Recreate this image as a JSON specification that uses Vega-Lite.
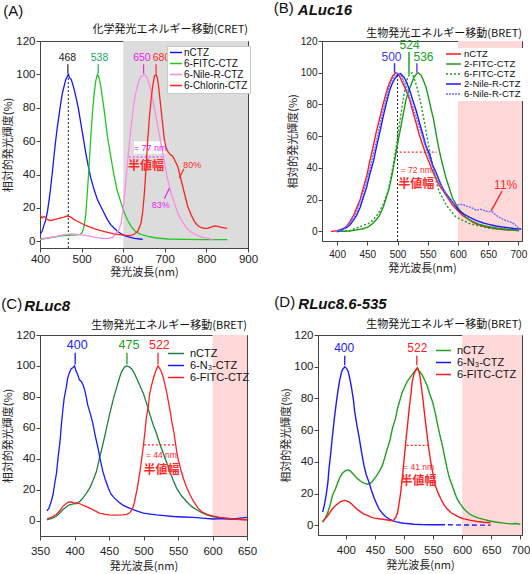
{
"$schema":"https://vega.github.io/schema/vega-lite/v6.json",
"padding":{"left":1,"top":0,"right":0,"bottom":0},
"config":{
 "font":"Liberation Sans",
 "view":{"stroke":"#444"},
 "axis":{"grid":false,"domainColor":"#444","tickColor":"#444","labelColor":"#222","labelFontSize":11.5,"labelFont":"Liberation Sans","tickSize":4,"labelPadding":1,"titleFont":"Noto Sans CJK JP","titleFontSize":11,"titleFontWeight":"normal","titleColor":"#222","titlePadding":2,"labelFlush":false},
 "legend":{"symbolType":"stroke","symbolStrokeWidth":1.6,"labelFont":"Liberation Sans","labelColor":"#111"}
},
"resolve":{"scale":{"color":"independent","fill":"independent","stroke":"independent","strokeDash":"independent"}},
"spacing":16,
"datasets":{
"A":[
{"s":"nCTZ","nm":400,"v":4},{"s":"nCTZ","nm":405,"v":6},{"s":"nCTZ","nm":410,"v":10},{"s":"nCTZ","nm":414,"v":13},{"s":"nCTZ","nm":418,"v":18},{"s":"nCTZ","nm":422,"v":25},{"s":"nCTZ","nm":426,"v":33},{"s":"nCTZ","nm":430,"v":42},{"s":"nCTZ","nm":434,"v":52},{"s":"nCTZ","nm":438,"v":61},{"s":"nCTZ","nm":442,"v":69},{"s":"nCTZ","nm":446,"v":76},{"s":"nCTZ","nm":450,"v":83},{"s":"nCTZ","nm":454,"v":89},{"s":"nCTZ","nm":458,"v":93},{"s":"nCTZ","nm":462,"v":97},{"s":"nCTZ","nm":466,"v":99},{"s":"nCTZ","nm":468,"v":100},{"s":"nCTZ","nm":471,"v":98},{"s":"nCTZ","nm":475,"v":97},{"s":"nCTZ","nm":480,"v":93},{"s":"nCTZ","nm":486,"v":87},{"s":"nCTZ","nm":492,"v":80},{"s":"nCTZ","nm":498,"v":71},{"s":"nCTZ","nm":504,"v":62},{"s":"nCTZ","nm":510,"v":53},{"s":"nCTZ","nm":516,"v":45},{"s":"nCTZ","nm":522,"v":38},{"s":"nCTZ","nm":530,"v":31},{"s":"nCTZ","nm":538,"v":25},{"s":"nCTZ","nm":546,"v":21},{"s":"nCTZ","nm":554,"v":17},{"s":"nCTZ","nm":562,"v":13},{"s":"nCTZ","nm":570,"v":10},{"s":"nCTZ","nm":578,"v":8},{"s":"nCTZ","nm":586,"v":6},{"s":"nCTZ","nm":595,"v":4.5},{"s":"nCTZ","nm":603,"v":3.4},{"s":"nCTZ","nm":615,"v":2.5},{"s":"nCTZ","nm":627,"v":1.8},{"s":"nCTZ","nm":640,"v":1.4},{"s":"nCTZ","nm":647,"v":1.2},
{"s":"6-FITC-CTZ","nm":400,"v":1.4},{"s":"6-FITC-CTZ","nm":420,"v":2},{"s":"6-FITC-CTZ","nm":440,"v":2.8},{"s":"6-FITC-CTZ","nm":460,"v":3.5},{"s":"6-FITC-CTZ","nm":480,"v":3.8},{"s":"6-FITC-CTZ","nm":496,"v":4},{"s":"6-FITC-CTZ","nm":502,"v":5.5},{"s":"6-FITC-CTZ","nm":506,"v":9},{"s":"6-FITC-CTZ","nm":510,"v":16},{"s":"6-FITC-CTZ","nm":514,"v":30},{"s":"6-FITC-CTZ","nm":518,"v":45},{"s":"6-FITC-CTZ","nm":522,"v":62},{"s":"6-FITC-CTZ","nm":526,"v":77},{"s":"6-FITC-CTZ","nm":530,"v":88},{"s":"6-FITC-CTZ","nm":534,"v":96},{"s":"6-FITC-CTZ","nm":538,"v":100},{"s":"6-FITC-CTZ","nm":542,"v":98},{"s":"6-FITC-CTZ","nm":546,"v":93},{"s":"6-FITC-CTZ","nm":550,"v":86},{"s":"6-FITC-CTZ","nm":554,"v":79},{"s":"6-FITC-CTZ","nm":558,"v":71},{"s":"6-FITC-CTZ","nm":562,"v":63},{"s":"6-FITC-CTZ","nm":568,"v":54},{"s":"6-FITC-CTZ","nm":574,"v":45},{"s":"6-FITC-CTZ","nm":580,"v":37},{"s":"6-FITC-CTZ","nm":586,"v":30},{"s":"6-FITC-CTZ","nm":595,"v":23},{"s":"6-FITC-CTZ","nm":603,"v":17},{"s":"6-FITC-CTZ","nm":611,"v":12.5},{"s":"6-FITC-CTZ","nm":619,"v":9},{"s":"6-FITC-CTZ","nm":627,"v":6.5},{"s":"6-FITC-CTZ","nm":635,"v":5},{"s":"6-FITC-CTZ","nm":647,"v":3.8},{"s":"6-FITC-CTZ","nm":659,"v":3},{"s":"6-FITC-CTZ","nm":680,"v":2},{"s":"6-FITC-CTZ","nm":707,"v":1.4},{"s":"6-FITC-CTZ","nm":750,"v":1.2},{"s":"6-FITC-CTZ","nm":800,"v":1},{"s":"6-FITC-CTZ","nm":850,"v":1},
{"s":"6-Nile-R-CTZ","nm":400,"v":1},{"s":"6-Nile-R-CTZ","nm":420,"v":2},{"s":"6-Nile-R-CTZ","nm":440,"v":3},{"s":"6-Nile-R-CTZ","nm":460,"v":4},{"s":"6-Nile-R-CTZ","nm":475,"v":4.4},{"s":"6-Nile-R-CTZ","nm":490,"v":4.2},{"s":"6-Nile-R-CTZ","nm":510,"v":3.5},{"s":"6-Nile-R-CTZ","nm":530,"v":2.5},{"s":"6-Nile-R-CTZ","nm":550,"v":1.8},{"s":"6-Nile-R-CTZ","nm":565,"v":1.6},{"s":"6-Nile-R-CTZ","nm":575,"v":2.5},{"s":"6-Nile-R-CTZ","nm":582,"v":4.4},{"s":"6-Nile-R-CTZ","nm":590,"v":7},{"s":"6-Nile-R-CTZ","nm":595,"v":11},{"s":"6-Nile-R-CTZ","nm":599,"v":18},{"s":"6-Nile-R-CTZ","nm":603,"v":27},{"s":"6-Nile-R-CTZ","nm":607,"v":38},{"s":"6-Nile-R-CTZ","nm":611,"v":49},{"s":"6-Nile-R-CTZ","nm":615,"v":59},{"s":"6-Nile-R-CTZ","nm":619,"v":69},{"s":"6-Nile-R-CTZ","nm":623,"v":77},{"s":"6-Nile-R-CTZ","nm":627,"v":85},{"s":"6-Nile-R-CTZ","nm":633,"v":92},{"s":"6-Nile-R-CTZ","nm":639,"v":97},{"s":"6-Nile-R-CTZ","nm":645,"v":99},{"s":"6-Nile-R-CTZ","nm":650,"v":100},{"s":"6-Nile-R-CTZ","nm":655,"v":99},{"s":"6-Nile-R-CTZ","nm":659,"v":97},{"s":"6-Nile-R-CTZ","nm":665,"v":92},{"s":"6-Nile-R-CTZ","nm":671,"v":85},{"s":"6-Nile-R-CTZ","nm":677,"v":77},{"s":"6-Nile-R-CTZ","nm":683,"v":69},{"s":"6-Nile-R-CTZ","nm":689,"v":61},{"s":"6-Nile-R-CTZ","nm":695,"v":53},{"s":"6-Nile-R-CTZ","nm":701,"v":45},{"s":"6-Nile-R-CTZ","nm":707,"v":37},{"s":"6-Nile-R-CTZ","nm":715,"v":29},{"s":"6-Nile-R-CTZ","nm":723,"v":23},{"s":"6-Nile-R-CTZ","nm":731,"v":17},{"s":"6-Nile-R-CTZ","nm":739,"v":13},{"s":"6-Nile-R-CTZ","nm":747,"v":10},{"s":"6-Nile-R-CTZ","nm":755,"v":7},{"s":"6-Nile-R-CTZ","nm":767,"v":5},{"s":"6-Nile-R-CTZ","nm":779,"v":3.4},{"s":"6-Nile-R-CTZ","nm":791,"v":2.4},{"s":"6-Nile-R-CTZ","nm":803,"v":1.8},{"s":"6-Nile-R-CTZ","nm":815,"v":1.2},
{"s":"6-Chlorin-CTZ","nm":400,"v":16},{"s":"6-Chlorin-CTZ","nm":405,"v":14},{"s":"6-Chlorin-CTZ","nm":410,"v":15},{"s":"6-Chlorin-CTZ","nm":418,"v":13},{"s":"6-Chlorin-CTZ","nm":426,"v":12.5},{"s":"6-Chlorin-CTZ","nm":434,"v":13},{"s":"6-Chlorin-CTZ","nm":442,"v":13.5},{"s":"6-Chlorin-CTZ","nm":450,"v":14},{"s":"6-Chlorin-CTZ","nm":458,"v":14.5},{"s":"6-Chlorin-CTZ","nm":466,"v":15.3},{"s":"6-Chlorin-CTZ","nm":474,"v":14.5},{"s":"6-Chlorin-CTZ","nm":482,"v":13},{"s":"6-Chlorin-CTZ","nm":490,"v":12},{"s":"6-Chlorin-CTZ","nm":498,"v":11},{"s":"6-Chlorin-CTZ","nm":510,"v":9.5},{"s":"6-Chlorin-CTZ","nm":522,"v":8.3},{"s":"6-Chlorin-CTZ","nm":534,"v":7.3},{"s":"6-Chlorin-CTZ","nm":546,"v":6.4},{"s":"6-Chlorin-CTZ","nm":562,"v":5.3},{"s":"6-Chlorin-CTZ","nm":578,"v":4.4},{"s":"6-Chlorin-CTZ","nm":595,"v":3.8},{"s":"6-Chlorin-CTZ","nm":611,"v":3.4},{"s":"6-Chlorin-CTZ","nm":619,"v":3.5},{"s":"6-Chlorin-CTZ","nm":627,"v":4.4},{"s":"6-Chlorin-CTZ","nm":635,"v":6},{"s":"6-Chlorin-CTZ","nm":643,"v":11},{"s":"6-Chlorin-CTZ","nm":647,"v":18},{"s":"6-Chlorin-CTZ","nm":651,"v":29},{"s":"6-Chlorin-CTZ","nm":655,"v":44},{"s":"6-Chlorin-CTZ","nm":659,"v":61},{"s":"6-Chlorin-CTZ","nm":663,"v":74},{"s":"6-Chlorin-CTZ","nm":667,"v":85},{"s":"6-Chlorin-CTZ","nm":671,"v":93},{"s":"6-Chlorin-CTZ","nm":675,"v":99},{"s":"6-Chlorin-CTZ","nm":679,"v":100},{"s":"6-Chlorin-CTZ","nm":682,"v":98},{"s":"6-Chlorin-CTZ","nm":685,"v":93},{"s":"6-Chlorin-CTZ","nm":688,"v":86},{"s":"6-Chlorin-CTZ","nm":691,"v":79},{"s":"6-Chlorin-CTZ","nm":695,"v":70},{"s":"6-Chlorin-CTZ","nm":699,"v":61},{"s":"6-Chlorin-CTZ","nm":703,"v":56},{"s":"6-Chlorin-CTZ","nm":707,"v":54},{"s":"6-Chlorin-CTZ","nm":713,"v":52},{"s":"6-Chlorin-CTZ","nm":719,"v":51},{"s":"6-Chlorin-CTZ","nm":725,"v":48},{"s":"6-Chlorin-CTZ","nm":731,"v":45},{"s":"6-Chlorin-CTZ","nm":737,"v":39},{"s":"6-Chlorin-CTZ","nm":743,"v":33},{"s":"6-Chlorin-CTZ","nm":749,"v":27},{"s":"6-Chlorin-CTZ","nm":755,"v":21},{"s":"6-Chlorin-CTZ","nm":763,"v":16},{"s":"6-Chlorin-CTZ","nm":771,"v":12},{"s":"6-Chlorin-CTZ","nm":779,"v":9.5},{"s":"6-Chlorin-CTZ","nm":787,"v":8.3},{"s":"6-Chlorin-CTZ","nm":795,"v":7.8},{"s":"6-Chlorin-CTZ","nm":803,"v":7.8},{"s":"6-Chlorin-CTZ","nm":811,"v":8.5},{"s":"6-Chlorin-CTZ","nm":820,"v":9.3},{"s":"6-Chlorin-CTZ","nm":828,"v":9},{"s":"6-Chlorin-CTZ","nm":836,"v":8.3},{"s":"6-Chlorin-CTZ","nm":843,"v":8},{"s":"6-Chlorin-CTZ","nm":850,"v":7.8}
],
"B":[
{"s":"nCTZ","nm":390,"v":0},{"s":"nCTZ","nm":400,"v":0.5},{"s":"nCTZ","nm":410,"v":1.7},{"s":"nCTZ","nm":416,"v":3.5},{"s":"nCTZ","nm":421,"v":6},{"s":"nCTZ","nm":427,"v":10},{"s":"nCTZ","nm":432,"v":14.5},{"s":"nCTZ","nm":438,"v":20},{"s":"nCTZ","nm":443,"v":27},{"s":"nCTZ","nm":449,"v":35},{"s":"nCTZ","nm":454,"v":44},{"s":"nCTZ","nm":460,"v":54},{"s":"nCTZ","nm":465,"v":63},{"s":"nCTZ","nm":471,"v":72},{"s":"nCTZ","nm":476,"v":80},{"s":"nCTZ","nm":481,"v":87},{"s":"nCTZ","nm":486,"v":93},{"s":"nCTZ","nm":492,"v":98},{"s":"nCTZ","nm":497,"v":100},{"s":"nCTZ","nm":503,"v":98},{"s":"nCTZ","nm":508,"v":94},{"s":"nCTZ","nm":514,"v":89},{"s":"nCTZ","nm":520,"v":83},{"s":"nCTZ","nm":525,"v":76},{"s":"nCTZ","nm":531,"v":68},{"s":"nCTZ","nm":536,"v":61},{"s":"nCTZ","nm":542,"v":54},{"s":"nCTZ","nm":547,"v":48.5},{"s":"nCTZ","nm":553,"v":43},{"s":"nCTZ","nm":558,"v":38},{"s":"nCTZ","nm":564,"v":33},{"s":"nCTZ","nm":569,"v":29},{"s":"nCTZ","nm":575,"v":26},{"s":"nCTZ","nm":580,"v":23},{"s":"nCTZ","nm":586,"v":19.5},{"s":"nCTZ","nm":591,"v":16.6},{"s":"nCTZ","nm":600,"v":13},{"s":"nCTZ","nm":608,"v":10},{"s":"nCTZ","nm":616,"v":8},{"s":"nCTZ","nm":624,"v":6},{"s":"nCTZ","nm":632,"v":4.5},{"s":"nCTZ","nm":641,"v":3.4},{"s":"nCTZ","nm":652,"v":2.4},{"s":"nCTZ","nm":663,"v":1.7},{"s":"nCTZ","nm":680,"v":1},{"s":"nCTZ","nm":701,"v":0.6},
{"s":"2-FITC-CTZ","nm":400,"v":0},{"s":"2-FITC-CTZ","nm":421,"v":0.3},{"s":"2-FITC-CTZ","nm":443,"v":1.7},{"s":"2-FITC-CTZ","nm":452,"v":3},{"s":"2-FITC-CTZ","nm":459,"v":5},{"s":"2-FITC-CTZ","nm":465,"v":7.5},{"s":"2-FITC-CTZ","nm":470,"v":10},{"s":"2-FITC-CTZ","nm":476,"v":15},{"s":"2-FITC-CTZ","nm":481,"v":21},{"s":"2-FITC-CTZ","nm":486,"v":27},{"s":"2-FITC-CTZ","nm":490,"v":34},{"s":"2-FITC-CTZ","nm":494,"v":42},{"s":"2-FITC-CTZ","nm":498,"v":51},{"s":"2-FITC-CTZ","nm":502,"v":59},{"s":"2-FITC-CTZ","nm":506,"v":67},{"s":"2-FITC-CTZ","nm":510,"v":75},{"s":"2-FITC-CTZ","nm":514,"v":83},{"s":"2-FITC-CTZ","nm":518,"v":88},{"s":"2-FITC-CTZ","nm":523,"v":93},{"s":"2-FITC-CTZ","nm":527,"v":97},{"s":"2-FITC-CTZ","nm":531,"v":99},{"s":"2-FITC-CTZ","nm":534,"v":100},{"s":"2-FITC-CTZ","nm":539,"v":98.5},{"s":"2-FITC-CTZ","nm":543,"v":95},{"s":"2-FITC-CTZ","nm":547,"v":91},{"s":"2-FITC-CTZ","nm":551,"v":85},{"s":"2-FITC-CTZ","nm":555,"v":78},{"s":"2-FITC-CTZ","nm":560,"v":70},{"s":"2-FITC-CTZ","nm":564,"v":61},{"s":"2-FITC-CTZ","nm":568,"v":53},{"s":"2-FITC-CTZ","nm":572,"v":46},{"s":"2-FITC-CTZ","nm":576,"v":40},{"s":"2-FITC-CTZ","nm":580,"v":34},{"s":"2-FITC-CTZ","nm":586,"v":27},{"s":"2-FITC-CTZ","nm":591,"v":21},{"s":"2-FITC-CTZ","nm":600,"v":15},{"s":"2-FITC-CTZ","nm":608,"v":11},{"s":"2-FITC-CTZ","nm":616,"v":8},{"s":"2-FITC-CTZ","nm":624,"v":6.4},{"s":"2-FITC-CTZ","nm":635,"v":4.5},{"s":"2-FITC-CTZ","nm":646,"v":3.4},{"s":"2-FITC-CTZ","nm":660,"v":2.4},{"s":"2-FITC-CTZ","nm":674,"v":1.7},{"s":"2-FITC-CTZ","nm":701,"v":0.6},
{"s":"6-FITC-CTZ","nm":400,"v":0},{"s":"6-FITC-CTZ","nm":421,"v":0.5},{"s":"6-FITC-CTZ","nm":443,"v":3.8},{"s":"6-FITC-CTZ","nm":452,"v":5},{"s":"6-FITC-CTZ","nm":459,"v":7},{"s":"6-FITC-CTZ","nm":468,"v":11},{"s":"6-FITC-CTZ","nm":476,"v":17},{"s":"6-FITC-CTZ","nm":480,"v":21},{"s":"6-FITC-CTZ","nm":484,"v":25},{"s":"6-FITC-CTZ","nm":488,"v":32},{"s":"6-FITC-CTZ","nm":492,"v":40},{"s":"6-FITC-CTZ","nm":496,"v":49},{"s":"6-FITC-CTZ","nm":500,"v":59},{"s":"6-FITC-CTZ","nm":504,"v":70},{"s":"6-FITC-CTZ","nm":508,"v":80},{"s":"6-FITC-CTZ","nm":511,"v":87},{"s":"6-FITC-CTZ","nm":514,"v":93},{"s":"6-FITC-CTZ","nm":517,"v":97},{"s":"6-FITC-CTZ","nm":520,"v":99},{"s":"6-FITC-CTZ","nm":524,"v":100},{"s":"6-FITC-CTZ","nm":528,"v":96},{"s":"6-FITC-CTZ","nm":532,"v":91},{"s":"6-FITC-CTZ","nm":536,"v":85},{"s":"6-FITC-CTZ","nm":540,"v":78},{"s":"6-FITC-CTZ","nm":545,"v":68},{"s":"6-FITC-CTZ","nm":549,"v":59},{"s":"6-FITC-CTZ","nm":553,"v":51},{"s":"6-FITC-CTZ","nm":557,"v":43},{"s":"6-FITC-CTZ","nm":561,"v":36},{"s":"6-FITC-CTZ","nm":565,"v":30},{"s":"6-FITC-CTZ","nm":569,"v":25},{"s":"6-FITC-CTZ","nm":575,"v":21},{"s":"6-FITC-CTZ","nm":580,"v":17},{"s":"6-FITC-CTZ","nm":588,"v":13},{"s":"6-FITC-CTZ","nm":597,"v":9},{"s":"6-FITC-CTZ","nm":608,"v":7},{"s":"6-FITC-CTZ","nm":619,"v":5},{"s":"6-FITC-CTZ","nm":635,"v":3.5},{"s":"6-FITC-CTZ","nm":652,"v":2},{"s":"6-FITC-CTZ","nm":680,"v":1},{"s":"6-FITC-CTZ","nm":701,"v":0.5},
{"s":"2-Nile-R-CTZ","nm":400,"v":0},{"s":"2-Nile-R-CTZ","nm":410,"v":1.5},{"s":"2-Nile-R-CTZ","nm":416,"v":2.5},{"s":"2-Nile-R-CTZ","nm":421,"v":4},{"s":"2-Nile-R-CTZ","nm":427,"v":7},{"s":"2-Nile-R-CTZ","nm":432,"v":10},{"s":"2-Nile-R-CTZ","nm":438,"v":15},{"s":"2-Nile-R-CTZ","nm":443,"v":21},{"s":"2-Nile-R-CTZ","nm":449,"v":28},{"s":"2-Nile-R-CTZ","nm":454,"v":36},{"s":"2-Nile-R-CTZ","nm":460,"v":44},{"s":"2-Nile-R-CTZ","nm":465,"v":53},{"s":"2-Nile-R-CTZ","nm":471,"v":63},{"s":"2-Nile-R-CTZ","nm":476,"v":72},{"s":"2-Nile-R-CTZ","nm":481,"v":80},{"s":"2-Nile-R-CTZ","nm":487,"v":89},{"s":"2-Nile-R-CTZ","nm":491,"v":93},{"s":"2-Nile-R-CTZ","nm":495,"v":96},{"s":"2-Nile-R-CTZ","nm":500,"v":98.5},{"s":"2-Nile-R-CTZ","nm":505,"v":99.5},{"s":"2-Nile-R-CTZ","nm":511,"v":97},{"s":"2-Nile-R-CTZ","nm":515,"v":94},{"s":"2-Nile-R-CTZ","nm":520,"v":89},{"s":"2-Nile-R-CTZ","nm":525,"v":83},{"s":"2-Nile-R-CTZ","nm":531,"v":76},{"s":"2-Nile-R-CTZ","nm":536,"v":69},{"s":"2-Nile-R-CTZ","nm":542,"v":61},{"s":"2-Nile-R-CTZ","nm":547,"v":54},{"s":"2-Nile-R-CTZ","nm":553,"v":48.5},{"s":"2-Nile-R-CTZ","nm":558,"v":42},{"s":"2-Nile-R-CTZ","nm":564,"v":37},{"s":"2-Nile-R-CTZ","nm":569,"v":32},{"s":"2-Nile-R-CTZ","nm":575,"v":27},{"s":"2-Nile-R-CTZ","nm":580,"v":24},{"s":"2-Nile-R-CTZ","nm":586,"v":21},{"s":"2-Nile-R-CTZ","nm":594,"v":17},{"s":"2-Nile-R-CTZ","nm":602,"v":13},{"s":"2-Nile-R-CTZ","nm":610,"v":11},{"s":"2-Nile-R-CTZ","nm":619,"v":9},{"s":"2-Nile-R-CTZ","nm":630,"v":7},{"s":"2-Nile-R-CTZ","nm":641,"v":5.5},{"s":"2-Nile-R-CTZ","nm":652,"v":4.4},{"s":"2-Nile-R-CTZ","nm":663,"v":3.4},{"s":"2-Nile-R-CTZ","nm":680,"v":2.5},{"s":"2-Nile-R-CTZ","nm":696,"v":1.7},{"s":"2-Nile-R-CTZ","nm":705,"v":1.5},
{"s":"6-Nile-R-CTZ","nm":398,"v":0},{"s":"6-Nile-R-CTZ","nm":410,"v":1.2},{"s":"6-Nile-R-CTZ","nm":421,"v":5},{"s":"6-Nile-R-CTZ","nm":432,"v":12},{"s":"6-Nile-R-CTZ","nm":443,"v":24},{"s":"6-Nile-R-CTZ","nm":454,"v":39},{"s":"6-Nile-R-CTZ","nm":465,"v":57},{"s":"6-Nile-R-CTZ","nm":476,"v":76},{"s":"6-Nile-R-CTZ","nm":487,"v":92},{"s":"6-Nile-R-CTZ","nm":494,"v":98},{"s":"6-Nile-R-CTZ","nm":500,"v":100},{"s":"6-Nile-R-CTZ","nm":506,"v":98},{"s":"6-Nile-R-CTZ","nm":514,"v":91},{"s":"6-Nile-R-CTZ","nm":522,"v":82},{"s":"6-Nile-R-CTZ","nm":531,"v":72},{"s":"6-Nile-R-CTZ","nm":540,"v":61},{"s":"6-Nile-R-CTZ","nm":549,"v":50},{"s":"6-Nile-R-CTZ","nm":558,"v":41},{"s":"6-Nile-R-CTZ","nm":566,"v":33},{"s":"6-Nile-R-CTZ","nm":575,"v":27},{"s":"6-Nile-R-CTZ","nm":583,"v":22},{"s":"6-Nile-R-CTZ","nm":591,"v":18},{"s":"6-Nile-R-CTZ","nm":597,"v":16.6},{"s":"6-Nile-R-CTZ","nm":603,"v":17},{"s":"6-Nile-R-CTZ","nm":608,"v":17},{"s":"6-Nile-R-CTZ","nm":614,"v":16},{"s":"6-Nile-R-CTZ","nm":619,"v":15.5},{"s":"6-Nile-R-CTZ","nm":625,"v":14.5},{"s":"6-Nile-R-CTZ","nm":630,"v":13.4},{"s":"6-Nile-R-CTZ","nm":635,"v":13.8},{"s":"6-Nile-R-CTZ","nm":638,"v":14},{"s":"6-Nile-R-CTZ","nm":642,"v":13.5},{"s":"6-Nile-R-CTZ","nm":646,"v":12.8},{"s":"6-Nile-R-CTZ","nm":651,"v":12.5},{"s":"6-Nile-R-CTZ","nm":657,"v":12.3},{"s":"6-Nile-R-CTZ","nm":662,"v":10.5},{"s":"6-Nile-R-CTZ","nm":668,"v":9},{"s":"6-Nile-R-CTZ","nm":673,"v":8},{"s":"6-Nile-R-CTZ","nm":679,"v":7},{"s":"6-Nile-R-CTZ","nm":684,"v":6.2},{"s":"6-Nile-R-CTZ","nm":690,"v":5.5},{"s":"6-Nile-R-CTZ","nm":695,"v":4},{"s":"6-Nile-R-CTZ","nm":701,"v":1.7}
],
"C":[
{"s":"nCTZ","nm":360,"v":0.4},{"s":"nCTZ","nm":366,"v":1.2},{"s":"nCTZ","nm":373,"v":2.6},{"s":"nCTZ","nm":378,"v":4.5},{"s":"nCTZ","nm":383,"v":7},{"s":"nCTZ","nm":388,"v":8.7},{"s":"nCTZ","nm":392,"v":10},{"s":"nCTZ","nm":398,"v":10.8},{"s":"nCTZ","nm":403,"v":11},{"s":"nCTZ","nm":408,"v":12.5},{"s":"nCTZ","nm":412,"v":14.5},{"s":"nCTZ","nm":417,"v":17.5},{"s":"nCTZ","nm":422,"v":21},{"s":"nCTZ","nm":427,"v":26},{"s":"nCTZ","nm":432,"v":32},{"s":"nCTZ","nm":436,"v":40},{"s":"nCTZ","nm":441,"v":49},{"s":"nCTZ","nm":446,"v":59},{"s":"nCTZ","nm":451,"v":69},{"s":"nCTZ","nm":456,"v":78},{"s":"nCTZ","nm":461,"v":86},{"s":"nCTZ","nm":465,"v":92},{"s":"nCTZ","nm":468,"v":96},{"s":"nCTZ","nm":472,"v":99},{"s":"nCTZ","nm":475,"v":100},{"s":"nCTZ","nm":479,"v":99.5},{"s":"nCTZ","nm":483,"v":98},{"s":"nCTZ","nm":487,"v":95},{"s":"nCTZ","nm":490,"v":92},{"s":"nCTZ","nm":495,"v":87},{"s":"nCTZ","nm":500,"v":82},{"s":"nCTZ","nm":505,"v":75},{"s":"nCTZ","nm":509,"v":69},{"s":"nCTZ","nm":514,"v":62},{"s":"nCTZ","nm":519,"v":56},{"s":"nCTZ","nm":524,"v":49},{"s":"nCTZ","nm":529,"v":43},{"s":"nCTZ","nm":534,"v":37},{"s":"nCTZ","nm":538,"v":32},{"s":"nCTZ","nm":543,"v":26},{"s":"nCTZ","nm":548,"v":21},{"s":"nCTZ","nm":555,"v":16},{"s":"nCTZ","nm":563,"v":12},{"s":"nCTZ","nm":570,"v":9},{"s":"nCTZ","nm":577,"v":7},{"s":"nCTZ","nm":585,"v":5},{"s":"nCTZ","nm":592,"v":3.7},{"s":"nCTZ","nm":600,"v":2.5},{"s":"nCTZ","nm":611,"v":1.5},{"s":"nCTZ","nm":625,"v":1},{"s":"nCTZ","nm":650,"v":0.4},
{"s":"6-N₃-CTZ","nm":360,"v":6.3},{"s":"6-N₃-CTZ","nm":363,"v":8},{"s":"6-N₃-CTZ","nm":366,"v":12},{"s":"6-N₃-CTZ","nm":369,"v":17},{"s":"6-N₃-CTZ","nm":371,"v":23},{"s":"6-N₃-CTZ","nm":374,"v":31},{"s":"6-N₃-CTZ","nm":376,"v":40},{"s":"6-N₃-CTZ","nm":379,"v":51},{"s":"6-N₃-CTZ","nm":381,"v":62},{"s":"6-N₃-CTZ","nm":383,"v":71},{"s":"6-N₃-CTZ","nm":385,"v":79},{"s":"6-N₃-CTZ","nm":388,"v":86},{"s":"6-N₃-CTZ","nm":390,"v":92},{"s":"6-N₃-CTZ","nm":393,"v":96},{"s":"6-N₃-CTZ","nm":395,"v":98},{"s":"6-N₃-CTZ","nm":398,"v":99},{"s":"6-N₃-CTZ","nm":400,"v":100},{"s":"6-N₃-CTZ","nm":402,"v":97},{"s":"6-N₃-CTZ","nm":405,"v":94},{"s":"6-N₃-CTZ","nm":407,"v":91},{"s":"6-N₃-CTZ","nm":410,"v":90},{"s":"6-N₃-CTZ","nm":413,"v":87},{"s":"6-N₃-CTZ","nm":415,"v":84},{"s":"6-N₃-CTZ","nm":417,"v":80},{"s":"6-N₃-CTZ","nm":419,"v":75},{"s":"6-N₃-CTZ","nm":423,"v":69},{"s":"6-N₃-CTZ","nm":427,"v":62},{"s":"6-N₃-CTZ","nm":430,"v":55},{"s":"6-N₃-CTZ","nm":434,"v":47},{"s":"6-N₃-CTZ","nm":437,"v":40},{"s":"6-N₃-CTZ","nm":441,"v":32},{"s":"6-N₃-CTZ","nm":445,"v":26},{"s":"6-N₃-CTZ","nm":449,"v":21},{"s":"6-N₃-CTZ","nm":453,"v":17},{"s":"6-N₃-CTZ","nm":458,"v":14.5},{"s":"6-N₃-CTZ","nm":464,"v":12},{"s":"6-N₃-CTZ","nm":470,"v":10},{"s":"6-N₃-CTZ","nm":477,"v":8.5},{"s":"6-N₃-CTZ","nm":485,"v":7},{"s":"6-N₃-CTZ","nm":492,"v":6},{"s":"6-N₃-CTZ","nm":500,"v":4.8},{"s":"6-N₃-CTZ","nm":510,"v":4.2},{"s":"6-N₃-CTZ","nm":519,"v":3.7},{"s":"6-N₃-CTZ","nm":530,"v":3.2},{"s":"6-N₃-CTZ","nm":543,"v":2.6},{"s":"6-N₃-CTZ","nm":558,"v":2.3},{"s":"6-N₃-CTZ","nm":572,"v":2},{"s":"6-N₃-CTZ","nm":585,"v":1.6},{"s":"6-N₃-CTZ","nm":601,"v":1},{"s":"6-N₃-CTZ","nm":615,"v":1.2},{"s":"6-N₃-CTZ","nm":631,"v":1},{"s":"6-N₃-CTZ","nm":640,"v":1.5},{"s":"6-N₃-CTZ","nm":650,"v":2},
{"s":"6-FITC-CTZ","nm":360,"v":1},{"s":"6-FITC-CTZ","nm":366,"v":2},{"s":"6-FITC-CTZ","nm":373,"v":3.7},{"s":"6-FITC-CTZ","nm":378,"v":6},{"s":"6-FITC-CTZ","nm":383,"v":9},{"s":"6-FITC-CTZ","nm":388,"v":11},{"s":"6-FITC-CTZ","nm":392,"v":12},{"s":"6-FITC-CTZ","nm":396,"v":12},{"s":"6-FITC-CTZ","nm":400,"v":11.2},{"s":"6-FITC-CTZ","nm":404,"v":11.5},{"s":"6-FITC-CTZ","nm":407,"v":11},{"s":"6-FITC-CTZ","nm":412,"v":10},{"s":"6-FITC-CTZ","nm":417,"v":9},{"s":"6-FITC-CTZ","nm":422,"v":8},{"s":"6-FITC-CTZ","nm":427,"v":7},{"s":"6-FITC-CTZ","nm":432,"v":5.8},{"s":"6-FITC-CTZ","nm":436,"v":4.8},{"s":"6-FITC-CTZ","nm":443,"v":4.2},{"s":"6-FITC-CTZ","nm":451,"v":3.7},{"s":"6-FITC-CTZ","nm":460,"v":3.5},{"s":"6-FITC-CTZ","nm":470,"v":3.7},{"s":"6-FITC-CTZ","nm":476,"v":4},{"s":"6-FITC-CTZ","nm":480,"v":5},{"s":"6-FITC-CTZ","nm":484,"v":7.5},{"s":"6-FITC-CTZ","nm":487,"v":12},{"s":"6-FITC-CTZ","nm":491,"v":21},{"s":"6-FITC-CTZ","nm":495,"v":32},{"s":"6-FITC-CTZ","nm":498,"v":42},{"s":"6-FITC-CTZ","nm":500,"v":49},{"s":"6-FITC-CTZ","nm":502,"v":57},{"s":"6-FITC-CTZ","nm":504,"v":66},{"s":"6-FITC-CTZ","nm":507,"v":74},{"s":"6-FITC-CTZ","nm":509,"v":82},{"s":"6-FITC-CTZ","nm":512,"v":88},{"s":"6-FITC-CTZ","nm":515,"v":93},{"s":"6-FITC-CTZ","nm":518,"v":97},{"s":"6-FITC-CTZ","nm":521,"v":100},{"s":"6-FITC-CTZ","nm":524,"v":98},{"s":"6-FITC-CTZ","nm":526,"v":96},{"s":"6-FITC-CTZ","nm":529,"v":92},{"s":"6-FITC-CTZ","nm":531,"v":88},{"s":"6-FITC-CTZ","nm":534,"v":82},{"s":"6-FITC-CTZ","nm":536,"v":77},{"s":"6-FITC-CTZ","nm":539,"v":70},{"s":"6-FITC-CTZ","nm":541,"v":64},{"s":"6-FITC-CTZ","nm":544,"v":57},{"s":"6-FITC-CTZ","nm":546,"v":51},{"s":"6-FITC-CTZ","nm":548,"v":45},{"s":"6-FITC-CTZ","nm":550,"v":40},{"s":"6-FITC-CTZ","nm":554,"v":33},{"s":"6-FITC-CTZ","nm":558,"v":27},{"s":"6-FITC-CTZ","nm":562,"v":22},{"s":"6-FITC-CTZ","nm":567,"v":17},{"s":"6-FITC-CTZ","nm":573,"v":12},{"s":"6-FITC-CTZ","nm":579,"v":8},{"s":"6-FITC-CTZ","nm":585,"v":5.5},{"s":"6-FITC-CTZ","nm":592,"v":4},{"s":"6-FITC-CTZ","nm":600,"v":3},{"s":"6-FITC-CTZ","nm":611,"v":2},{"s":"6-FITC-CTZ","nm":631,"v":1},{"s":"6-FITC-CTZ","nm":650,"v":0.5}
],
"D":[
{"s":"nCTZ","nm":360,"v":2},{"s":"nCTZ","nm":365,"v":5},{"s":"nCTZ","nm":369,"v":8.4},{"s":"nCTZ","nm":373,"v":13},{"s":"nCTZ","nm":377,"v":19},{"s":"nCTZ","nm":382,"v":23},{"s":"nCTZ","nm":386,"v":27},{"s":"nCTZ","nm":390,"v":30.5},{"s":"nCTZ","nm":394,"v":33},{"s":"nCTZ","nm":399,"v":34.5},{"s":"nCTZ","nm":403,"v":35},{"s":"nCTZ","nm":407,"v":34.5},{"s":"nCTZ","nm":411,"v":33},{"s":"nCTZ","nm":416,"v":31},{"s":"nCTZ","nm":420,"v":29.5},{"s":"nCTZ","nm":425,"v":28},{"s":"nCTZ","nm":429,"v":27},{"s":"nCTZ","nm":433,"v":26.5},{"s":"nCTZ","nm":437,"v":26},{"s":"nCTZ","nm":442,"v":26.5},{"s":"nCTZ","nm":446,"v":28},{"s":"nCTZ","nm":450,"v":30},{"s":"nCTZ","nm":454,"v":32},{"s":"nCTZ","nm":459,"v":35},{"s":"nCTZ","nm":463,"v":38},{"s":"nCTZ","nm":467,"v":43},{"s":"nCTZ","nm":471,"v":48},{"s":"nCTZ","nm":476,"v":54},{"s":"nCTZ","nm":480,"v":61},{"s":"nCTZ","nm":485,"v":67},{"s":"nCTZ","nm":489,"v":74},{"s":"nCTZ","nm":493,"v":79},{"s":"nCTZ","nm":497,"v":84},{"s":"nCTZ","nm":502,"v":88},{"s":"nCTZ","nm":506,"v":91},{"s":"nCTZ","nm":510,"v":93},{"s":"nCTZ","nm":514,"v":95},{"s":"nCTZ","nm":518,"v":97},{"s":"nCTZ","nm":523,"v":98.5},{"s":"nCTZ","nm":527,"v":97},{"s":"nCTZ","nm":531,"v":95},{"s":"nCTZ","nm":535,"v":92},{"s":"nCTZ","nm":540,"v":88},{"s":"nCTZ","nm":544,"v":83},{"s":"nCTZ","nm":549,"v":78},{"s":"nCTZ","nm":553,"v":72},{"s":"nCTZ","nm":557,"v":65},{"s":"nCTZ","nm":561,"v":58},{"s":"nCTZ","nm":566,"v":50.5},{"s":"nCTZ","nm":570,"v":43},{"s":"nCTZ","nm":574,"v":36},{"s":"nCTZ","nm":578,"v":30},{"s":"nCTZ","nm":583,"v":25},{"s":"nCTZ","nm":587,"v":21},{"s":"nCTZ","nm":591,"v":17},{"s":"nCTZ","nm":597,"v":13.5},{"s":"nCTZ","nm":603,"v":10.5},{"s":"nCTZ","nm":610,"v":8},{"s":"nCTZ","nm":617,"v":6.3},{"s":"nCTZ","nm":627,"v":4.8},{"s":"nCTZ","nm":637,"v":3.8},{"s":"nCTZ","nm":648,"v":2.8},{"s":"nCTZ","nm":660,"v":2},{"s":"nCTZ","nm":672,"v":1.5},{"s":"nCTZ","nm":683,"v":1},{"s":"nCTZ","nm":692,"v":1.2},{"s":"nCTZ","nm":700,"v":0.8},
{"s":"6-N₃-CTZ","nm":360,"v":8.4},{"s":"6-N₃-CTZ","nm":363,"v":13},{"s":"6-N₃-CTZ","nm":366,"v":19},{"s":"6-N₃-CTZ","nm":369,"v":27},{"s":"6-N₃-CTZ","nm":371,"v":36},{"s":"6-N₃-CTZ","nm":374,"v":46},{"s":"6-N₃-CTZ","nm":377,"v":57},{"s":"6-N₃-CTZ","nm":380,"v":67},{"s":"6-N₃-CTZ","nm":383,"v":76},{"s":"6-N₃-CTZ","nm":386,"v":84},{"s":"6-N₃-CTZ","nm":389,"v":91},{"s":"6-N₃-CTZ","nm":392,"v":96},{"s":"6-N₃-CTZ","nm":394,"v":98},{"s":"6-N₃-CTZ","nm":398,"v":100},{"s":"6-N₃-CTZ","nm":401,"v":99},{"s":"6-N₃-CTZ","nm":404,"v":97},{"s":"6-N₃-CTZ","nm":407,"v":92},{"s":"6-N₃-CTZ","nm":410,"v":86},{"s":"6-N₃-CTZ","nm":413,"v":79},{"s":"6-N₃-CTZ","nm":415,"v":72},{"s":"6-N₃-CTZ","nm":419,"v":63},{"s":"6-N₃-CTZ","nm":423,"v":55},{"s":"6-N₃-CTZ","nm":427,"v":46},{"s":"6-N₃-CTZ","nm":431,"v":38},{"s":"6-N₃-CTZ","nm":435,"v":32},{"s":"6-N₃-CTZ","nm":440,"v":27},{"s":"6-N₃-CTZ","nm":444,"v":22},{"s":"6-N₃-CTZ","nm":449,"v":17},{"s":"6-N₃-CTZ","nm":453,"v":13.5},{"s":"6-N₃-CTZ","nm":457,"v":10.5},{"s":"6-N₃-CTZ","nm":463,"v":7.5},{"s":"6-N₃-CTZ","nm":469,"v":5.3},{"s":"6-N₃-CTZ","nm":475,"v":4},{"s":"6-N₃-CTZ","nm":480,"v":3},{"s":"6-N₃-CTZ","nm":487,"v":2.3},{"s":"6-N₃-CTZ","nm":494,"v":1.7},{"s":"6-N₃-CTZ","nm":505,"v":1.2},{"s":"6-N₃-CTZ","nm":517,"v":0.8},{"s":"6-N₃-CTZ","nm":530,"v":0.6},{"s":"6-N₃-CTZ","nm":546,"v":0.5},{"s":"6-N₃-CTZ","nm":562,"v":0.5},
{"s":"6-FITC-CTZ","nm":360,"v":2.5},{"s":"6-FITC-CTZ","nm":365,"v":4.5},{"s":"6-FITC-CTZ","nm":369,"v":6.3},{"s":"6-FITC-CTZ","nm":373,"v":8.5},{"s":"6-FITC-CTZ","nm":377,"v":10.5},{"s":"6-FITC-CTZ","nm":382,"v":12.5},{"s":"6-FITC-CTZ","nm":386,"v":13.7},{"s":"6-FITC-CTZ","nm":391,"v":15},{"s":"6-FITC-CTZ","nm":397,"v":15.8},{"s":"6-FITC-CTZ","nm":401,"v":15.5},{"s":"6-FITC-CTZ","nm":406,"v":14.7},{"s":"6-FITC-CTZ","nm":410,"v":13.5},{"s":"6-FITC-CTZ","nm":414,"v":12},{"s":"6-FITC-CTZ","nm":420,"v":10},{"s":"6-FITC-CTZ","nm":426,"v":8.4},{"s":"6-FITC-CTZ","nm":431,"v":7.2},{"s":"6-FITC-CTZ","nm":437,"v":6.3},{"s":"6-FITC-CTZ","nm":443,"v":5.3},{"s":"6-FITC-CTZ","nm":449,"v":4.6},{"s":"6-FITC-CTZ","nm":457,"v":4.2},{"s":"6-FITC-CTZ","nm":466,"v":3.8},{"s":"6-FITC-CTZ","nm":474,"v":3.3},{"s":"6-FITC-CTZ","nm":480,"v":3},{"s":"6-FITC-CTZ","nm":483,"v":3.8},{"s":"6-FITC-CTZ","nm":486,"v":5.3},{"s":"6-FITC-CTZ","nm":489,"v":8},{"s":"6-FITC-CTZ","nm":491,"v":12.6},{"s":"6-FITC-CTZ","nm":494,"v":20},{"s":"6-FITC-CTZ","nm":497,"v":29.5},{"s":"6-FITC-CTZ","nm":500,"v":41},{"s":"6-FITC-CTZ","nm":503,"v":52.6},{"s":"6-FITC-CTZ","nm":506,"v":63},{"s":"6-FITC-CTZ","nm":509,"v":74},{"s":"6-FITC-CTZ","nm":512,"v":83},{"s":"6-FITC-CTZ","nm":514,"v":90.5},{"s":"6-FITC-CTZ","nm":517,"v":95},{"s":"6-FITC-CTZ","nm":520,"v":98},{"s":"6-FITC-CTZ","nm":523,"v":99.4},{"s":"6-FITC-CTZ","nm":525,"v":98},{"s":"6-FITC-CTZ","nm":527,"v":95},{"s":"6-FITC-CTZ","nm":530,"v":87},{"s":"6-FITC-CTZ","nm":533,"v":78},{"s":"6-FITC-CTZ","nm":536,"v":68},{"s":"6-FITC-CTZ","nm":539,"v":59},{"s":"6-FITC-CTZ","nm":542,"v":50},{"s":"6-FITC-CTZ","nm":546,"v":40},{"s":"6-FITC-CTZ","nm":550,"v":32},{"s":"6-FITC-CTZ","nm":554,"v":25},{"s":"6-FITC-CTZ","nm":558,"v":21},{"s":"6-FITC-CTZ","nm":563,"v":17},{"s":"6-FITC-CTZ","nm":568,"v":13.5},{"s":"6-FITC-CTZ","nm":574,"v":10.5},{"s":"6-FITC-CTZ","nm":581,"v":8},{"s":"6-FITC-CTZ","nm":589,"v":6.3},{"s":"6-FITC-CTZ","nm":596,"v":5},{"s":"6-FITC-CTZ","nm":603,"v":4.2},{"s":"6-FITC-CTZ","nm":615,"v":3.2},{"s":"6-FITC-CTZ","nm":626,"v":2.5},{"s":"6-FITC-CTZ","nm":638,"v":2},{"s":"6-FITC-CTZ","nm":649,"v":1.7}
],
"Dtail":[{"nm":562,"v":0.5},{"nm":600,"v":0.3},{"nm":649,"v":0.2}]
},
"vconcat":[
{"hconcat":[
 {"title":{"text":"(A)","anchor":"start","frame":"bounds","font":"Liberation Sans","fontSize":15,"fontWeight":"normal","color":"#111","offset":5,"dx":1},
  "vconcat":[{
   "width":208,"height":207,
   "title":{"text":"化学発光エネルギー移動(CRET)","anchor":"end","frame":"group","font":"Noto Sans CJK JP","fontSize":11,"fontWeight":"normal","color":"#111","offset":0},
   "encoding":{
    "x":{"field":"nm","type":"quantitative","title":"発光波長(nm)","scale":{"domain":[400,900],"nice":false,"zero":false},"axis":{"values":[400,500,600,700,800,900],"labelPadding":1,"titlePadding":2}},
    "y":{"field":"v","type":"quantitative","title":"相対的発光輝度(%)","scale":{"domain":[-4,120],"nice":false,"zero":false},"axis":{"values":[0,20,40,60,80,100,120]}}
   },
   "layer":[
    {"data":{"values":[{"nm":600,"nm2":900,"v":-10,"v2":130}]},"mark":{"type":"rect","color":"#dcdcdc","clip":true},"encoding":{"x2":{"field":"nm2"},"y2":{"field":"v2"}}},
    {"data":{"values":[{"nm":626,"nm2":703,"v":52.5,"v2":60}]},"mark":{"type":"rect","color":"#ffffff"},"encoding":{"x2":{"field":"nm2"},"y2":{"field":"v2"}}},
    {"data":{"values":[{"nm":468,"v":-4,"v2":100}]},"mark":{"type":"rule","strokeDash":[2,2],"strokeWidth":1,"color":"#222222"},"encoding":{"y2":{"field":"v2"}}},
    {"data":{"values":[{"nm":613,"nm2":698,"v":50.5}]},"mark":{"type":"rule","strokeDash":[2,2],"strokeWidth":1,"color":"#ee22ee"},"encoding":{"x2":{"field":"nm2"}}},
    {"data":{"name":"A"},"mark":{"type":"line","strokeWidth":1.3,"clip":true},"encoding":{"color":{"field":"s","type":"nominal","scale":{"domain":["nCTZ","6-FITC-CTZ","6-Nile-R-CTZ","6-Chlorin-CTZ"],"range":["#1515ff","#22c822","#ff8ae6","#ff2222"]},"legend":{"title":null,"orient":"none","legendX":127,"legendY":5,"symbolSize":144,"labelFontSize":10,"fillColor":"#ffffff","strokeColor":"#c8c8c8","padding":2,"rowPadding":0,"clipHeight":9,"labelOffset":1}}}},
    {"data":{"values":[{"s":"nCTZ","nm":467,"v":100.5,"nm2":467,"v2":106},{"s":"6-FITC-CTZ","nm":540,"v":100.5,"nm2":540,"v2":106},{"s":"6-Nile-R-CTZ","nm":649,"v":100.5,"nm2":649,"v2":106},{"s":"6-Chlorin-CTZ","nm":679,"v":100.5,"nm2":679,"v2":106},{"s":"6-Chlorin-CTZ","nm":746,"v":43.5,"nm2":735,"v2":38},{"s":"6-Nile-R-CTZ","nm":699,"v":25.5,"nm2":711,"v2":32}]},"mark":{"type":"rule","strokeWidth":1.2},"encoding":{"x2":{"field":"nm2"},"y2":{"field":"v2"},"stroke":{"field":"s","type":"nominal","scale":{"domain":["6-Chlorin-CTZ","6-Nile-R-CTZ","6-FITC-CTZ","nCTZ"],"range":["#ff2a2a","#ee22ee","#1aa860","#222222"]},"legend":null}}},
    {"data":{"values":[{"s":"nCTZ","nm":466,"v":110,"t":"468"},{"s":"6-FITC-CTZ","nm":543,"v":110,"t":"538"},{"s":"6-Nile-R-CTZ","nm":645,"v":110,"t":"650"},{"s":"6-Chlorin-CTZ","nm":692,"v":110,"t":"680"}]},"mark":{"type":"text","fontSize":10.5,"baseline":"middle"},"encoding":{"text":{"field":"t"},"fill":{"field":"s","type":"nominal","scale":{"domain":["6-Chlorin-CTZ","6-Nile-R-CTZ","6-FITC-CTZ","nCTZ"],"range":["#ff2a2a","#ee22ee","#1aa860","#222222"]},"legend":null}}},
    {"data":{"values":[{"s":"6-Nile-R-CTZ","nm":665,"v":56,"t":"= 77 nm"},{"s":"6-Chlorin-CTZ","nm":766,"v":45.5,"t":"80%"},{"s":"6-Nile-R-CTZ","nm":690,"v":21.5,"t":"83%"}]},"mark":{"type":"text","fontSize":9,"baseline":"middle"},"encoding":{"text":{"field":"t"},"fill":{"field":"s","type":"nominal","scale":{"domain":["6-Chlorin-CTZ","6-Nile-R-CTZ","6-FITC-CTZ","nCTZ"],"range":["#ff2a2a","#ee22ee","#1aa860","#222222"]},"legend":null}}},
    {"data":{"values":[{"nm":655,"v":45,"t":"半値幅"}]},"mark":{"type":"text","font":"Noto Sans CJK JP","fontSize":12,"fontWeight":"bold","color":"#ff2a2a","baseline":"middle"},"encoding":{"text":{"field":"t"}}}
   ]
  }]
 },
 {"title":{"text":"ALuc16","anchor":"start","frame":"bounds","font":"Liberation Sans","fontSize":15,"fontWeight":"bold","fontStyle":"italic","color":"#111","dx":24,"offset":-17},
  "vconcat":[{
   "title":{"text":"(B)","anchor":"start","frame":"bounds","font":"Liberation Sans","fontSize":15,"fontWeight":"normal","color":"#111","offset":12,"dx":-13},
   "vconcat":[{
    "width":200,"height":200,
    "title":{"text":"生物発光エネルギー移動(BRET)","anchor":"end","frame":"group","font":"Noto Sans CJK JP","fontSize":11,"fontWeight":"normal","color":"#111","offset":-3},
    "encoding":{
     "x":{"field":"nm","type":"quantitative","title":"発光波長(nm)","scale":{"domain":[375,706],"nice":false,"zero":false},"axis":{"values":[400,450,500,550,600,650,700],"labelPadding":4,"titlePadding":3,"labelFontSize":10}},
     "y":{"field":"v","type":"quantitative","title":"相対的発光輝度(%)","scale":{"domain":[-6,120],"nice":false,"zero":false},"axis":{"values":[0,20,40,60,80,100,120],"labelFontSize":10}}
    },
    "layer":[
     {"data":{"values":[{"nm":600,"nm2":720,"v":-10,"v2":130}]},"mark":{"type":"rect","color":"#ffd9d9","clip":true},"encoding":{"x2":{"field":"nm2"},"y2":{"field":"v2"}}},
     {"data":{"values":[{"nm":500,"v":-6,"v2":100}]},"mark":{"type":"rule","strokeDash":[2,2],"strokeWidth":1,"color":"#222222"},"encoding":{"y2":{"field":"v2"}}},
     {"data":{"values":[{"nm":497,"nm2":565,"v":50}]},"mark":{"type":"rule","strokeDash":[2,2],"strokeWidth":1.2,"color":"#ff2a2a"},"encoding":{"x2":{"field":"nm2"}}},
     {"data":{"name":"B"},"mark":{"type":"line","strokeWidth":1.4,"clip":true},"encoding":{
       "color":{"field":"s","type":"nominal","scale":{"domain":["nCTZ","2-FITC-CTZ","6-FITC-CTZ","2-Nile-R-CTZ","6-Nile-R-CTZ"],"range":["#ff1a1a","#1f9a1f","#1f9a1f","#1a1aff","#6b6bff"]},"legend":{"title":null,"orient":"none","legendX":121,"legendY":7,"symbolSize":225,"labelFontSize":9.5,"fillColor":"#ffffff","padding":2,"rowPadding":0,"clipHeight":8,"labelOffset":2}},
       "strokeDash":{"field":"s","type":"nominal","scale":{"domain":["nCTZ","2-FITC-CTZ","6-FITC-CTZ","2-Nile-R-CTZ","6-Nile-R-CTZ"],"range":[[1,0],[1,0],[2,2],[1,0],[2,1]]},"legend":{"title":null,"orient":"none","legendX":121,"legendY":7,"symbolSize":225,"labelFontSize":9.5,"fillColor":"#ffffff","padding":2,"rowPadding":0,"clipHeight":8,"labelOffset":2}}}},
     {"data":{"values":[{"s":"2-Nile-R-CTZ","nm":495,"v":100,"nm2":495,"v2":106},{"s":"6-FITC-CTZ","nm":519,"v":99,"nm2":519,"v2":113},{"s":"6-Nile-R-CTZ","nm":532,"v":100,"nm2":532,"v2":106},{"s":"nCTZ","nm":673,"v":25.5,"nm2":655,"v2":13}]},"mark":{"type":"rule","strokeWidth":1.5},"encoding":{"x2":{"field":"nm2"},"y2":{"field":"v2"},"stroke":{"field":"s","type":"nominal","scale":{"domain":["6-Nile-R-CTZ","2-Nile-R-CTZ","6-FITC-CTZ","2-FITC-CTZ","nCTZ"],"range":["#7a44ff","#3a3af0","#22a02a","#22a02a","#ff2a2a"]},"legend":null}}},
     {"data":{"values":[{"s":"2-Nile-R-CTZ","nm":490,"v":110,"t":"500"},{"s":"6-FITC-CTZ","nm":520,"v":117.5,"t":"524"},{"s":"2-FITC-CTZ","nm":543,"v":110,"t":"536"}]},"mark":{"type":"text","fontSize":12,"baseline":"middle"},"encoding":{"text":{"field":"t"},"fill":{"field":"s","type":"nominal","scale":{"domain":["6-Nile-R-CTZ","2-Nile-R-CTZ","6-FITC-CTZ","2-FITC-CTZ","nCTZ"],"range":["#7a44ff","#3a3af0","#22a02a","#22a02a","#ff2a2a"]},"legend":null}}},
     {"data":{"values":[{"nm":531,"v":39,"t":"= 72 nm"}]},"mark":{"type":"text","fontSize":8.5,"baseline":"middle","color":"#ff2a2a"},"encoding":{"text":{"field":"t"}}},
     {"data":{"values":[{"nm":679,"v":29,"t":"11%"}]},"mark":{"type":"text","fontSize":12,"baseline":"middle","color":"#ff2a2a"},"encoding":{"text":{"field":"t"}}},
     {"data":{"values":[{"nm":531,"v":30,"t":"半値幅"}]},"mark":{"type":"text","font":"Noto Sans CJK JP","fontSize":12,"fontWeight":"bold","color":"#ff2a2a","baseline":"middle"},"encoding":{"text":{"field":"t"}}}
    ]
   }]
  }]
 }
],"spacing":14,"resolve":{"scale":{"color":"independent","fill":"independent","stroke":"independent","strokeDash":"independent"}}},
{"hconcat":[
 {"title":{"text":"RLuc8","anchor":"start","frame":"bounds","font":"Liberation Sans","fontSize":15,"fontWeight":"bold","fontStyle":"italic","color":"#111","dx":23,"offset":-17},
  "vconcat":[{
   "title":{"text":"(C)","anchor":"start","frame":"bounds","font":"Liberation Sans","fontSize":15,"fontWeight":"normal","color":"#111","offset":8,"dx":-1},
   "vconcat":[{
    "width":207,"height":201,
    "title":{"text":"生物発光エネルギー移動(BRET)","anchor":"end","frame":"group","font":"Noto Sans CJK JP","fontSize":11,"fontWeight":"normal","color":"#111","offset":-2},
    "encoding":{
     "x":{"field":"nm","type":"quantitative","title":"発光波長(nm)","scale":{"domain":[350,650],"nice":false,"zero":false},"axis":{"values":[350,400,450,500,550,600,650],"labelPadding":5,"titlePadding":4}},
     "y":{"field":"v","type":"quantitative","title":"相対的発光輝度(%)","scale":{"domain":[-10,120],"nice":false,"zero":false},"axis":{"values":[0,20,40,60,80,100,120]}}
    },
    "layer":[
     {"data":{"values":[{"nm":600,"nm2":660,"v":-15,"v2":130}]},"mark":{"type":"rect","color":"#ffd9d9","clip":true},"encoding":{"x2":{"field":"nm2"},"y2":{"field":"v2"}}},
     {"data":{"values":[{"nm":500.5,"nm2":545.5,"v":49}]},"mark":{"type":"rule","strokeDash":[2,2],"strokeWidth":1.2,"color":"#ff2020"},"encoding":{"x2":{"field":"nm2"}}},
     {"data":{"name":"C"},"mark":{"type":"line","strokeWidth":1.3,"clip":true},"encoding":{"color":{"field":"s","type":"nominal","scale":{"domain":["nCTZ","6-N₃-CTZ","6-FITC-CTZ"],"range":["#1e8040","#1a1aff","#ff2020"]},"legend":{"title":null,"orient":"none","legendX":127,"legendY":13,"symbolSize":256,"labelFontSize":11,"padding":0,"rowPadding":0,"clipHeight":11,"labelOffset":5}}}},
     {"data":{"values":[{"s":"6-N₃-CTZ","nm":401,"v":101,"v2":108.5},{"s":"nCTZ","nm":476,"v":101,"v2":108.5},{"s":"6-FITC-CTZ","nm":521,"v":101,"v2":108.5}]},"mark":{"type":"rule","strokeWidth":1.3},"encoding":{"y2":{"field":"v2"},"stroke":{"field":"s","type":"nominal","scale":{"domain":["6-FITC-CTZ","6-N₃-CTZ","nCTZ"],"range":["#ff2020","#1a1aff","#22a022"]},"legend":null}}},
     {"data":{"values":[{"s":"6-N₃-CTZ","nm":404,"v":113.5,"t":"400"},{"s":"nCTZ","nm":479,"v":113.5,"t":"475"},{"s":"6-FITC-CTZ","nm":523,"v":113.5,"t":"522"}]},"mark":{"type":"text","fontSize":12.5,"baseline":"middle"},"encoding":{"text":{"field":"t"},"fill":{"field":"s","type":"nominal","scale":{"domain":["6-FITC-CTZ","6-N₃-CTZ","nCTZ"],"range":["#ff2020","#1a1aff","#22a022"]},"legend":null}}},
     {"data":{"values":[{"nm":526,"v":42.5,"t":"= 44 nm"}]},"mark":{"type":"text","fontSize":8.5,"baseline":"middle","color":"#ff2a2a"},"encoding":{"text":{"field":"t"}}},
     {"data":{"values":[{"nm":526,"v":32.5,"t":"半値幅"}]},"mark":{"type":"text","font":"Noto Sans CJK JP","fontSize":12,"fontWeight":"bold","color":"#ff2a2a","baseline":"middle"},"encoding":{"text":{"field":"t"}}}
    ]
   }]
  }]
 },
 {"title":{"text":"RLuc8.6-535","anchor":"start","frame":"bounds","font":"Liberation Sans","fontSize":15,"fontWeight":"bold","fontStyle":"italic","color":"#111","dx":24,"offset":-17},
  "vconcat":[{
   "title":{"text":"(D)","anchor":"start","frame":"bounds","font":"Liberation Sans","fontSize":15,"fontWeight":"normal","color":"#111","offset":9,"dx":-6},
   "vconcat":[{
    "width":204,"height":200,
    "title":{"text":"生物発光エネルギー移動(BRET)","anchor":"end","frame":"group","font":"Noto Sans CJK JP","fontSize":11,"fontWeight":"normal","color":"#111","offset":-1},
    "encoding":{
     "x":{"field":"nm","type":"quantitative","title":"発光波長(nm)","scale":{"domain":[352,703],"nice":false,"zero":false},"axis":{"values":[400,450,500,550,600,650,700],"labelPadding":5,"titlePadding":4}},
     "y":{"field":"v","type":"quantitative","title":"相対的発光輝度(%)","scale":{"domain":[-6,120],"nice":false,"zero":false},"axis":{"values":[0,20,40,60,80,100,120]}}
    },
    "layer":[
     {"data":{"values":[{"nm":600,"nm2":720,"v":-10,"v2":130}]},"mark":{"type":"rect","color":"#ffd9d9","clip":true},"encoding":{"x2":{"field":"nm2"},"y2":{"field":"v2"}}},
     {"data":{"values":[{"nm":504.5,"nm2":545.5,"v":50.5}]},"mark":{"type":"rule","strokeDash":[2,2],"strokeWidth":1.2,"color":"#ff2020"},"encoding":{"x2":{"field":"nm2"}}},
     {"data":{"name":"D"},"mark":{"type":"line","strokeWidth":1.4,"clip":true},"encoding":{"color":{"field":"s","type":"nominal","scale":{"domain":["nCTZ","6-N₃-CTZ","6-FITC-CTZ"],"range":["#20a020","#1a1aff","#ff1a1a"]},"legend":{"title":null,"orient":"none","legendX":117,"legendY":10,"symbolSize":225,"labelFontSize":11,"padding":0,"rowPadding":0,"clipHeight":11,"labelOffset":5}}}},
     {"data":{"name":"Dtail"},"mark":{"type":"line","strokeWidth":1.4,"color":"#1a1aff","strokeDash":[5,3],"clip":true},"encoding":{}},
     {"data":{"values":[{"s":"6-N₃-CTZ","nm":398,"v":101,"v2":107},{"s":"6-FITC-CTZ","nm":522,"v":101,"v2":107}]},"mark":{"type":"rule","strokeWidth":1.3},"encoding":{"y2":{"field":"v2"},"stroke":{"field":"s","type":"nominal","scale":{"domain":["6-FITC-CTZ","6-N₃-CTZ","nCTZ"],"range":["#ff2020","#1a1aff","#22a022"]},"legend":null}}},
     {"data":{"values":[{"s":"6-N₃-CTZ","nm":397,"v":112,"t":"400"},{"s":"6-FITC-CTZ","nm":523,"v":112,"t":"522"}]},"mark":{"type":"text","fontSize":12,"baseline":"middle"},"encoding":{"text":{"field":"t"},"fill":{"field":"s","type":"nominal","scale":{"domain":["6-FITC-CTZ","6-N₃-CTZ","nCTZ"],"range":["#ff2020","#1a1aff","#22a022"]},"legend":null}}},
     {"data":{"values":[{"nm":525,"v":37,"t":"= 41 nm"}]},"mark":{"type":"text","fontSize":8.5,"baseline":"middle","color":"#ff2a2a"},"encoding":{"text":{"field":"t"}}},
     {"data":{"values":[{"nm":525,"v":28,"t":"半値幅"}]},"mark":{"type":"text","font":"Noto Sans CJK JP","fontSize":12,"fontWeight":"bold","color":"#ff2a2a","baseline":"middle"},"encoding":{"text":{"field":"t"}}}
    ]
   }]
  }]
 }
],"spacing":16,"resolve":{"scale":{"color":"independent","fill":"independent","stroke":"independent","strokeDash":"independent"}}}
]
}
